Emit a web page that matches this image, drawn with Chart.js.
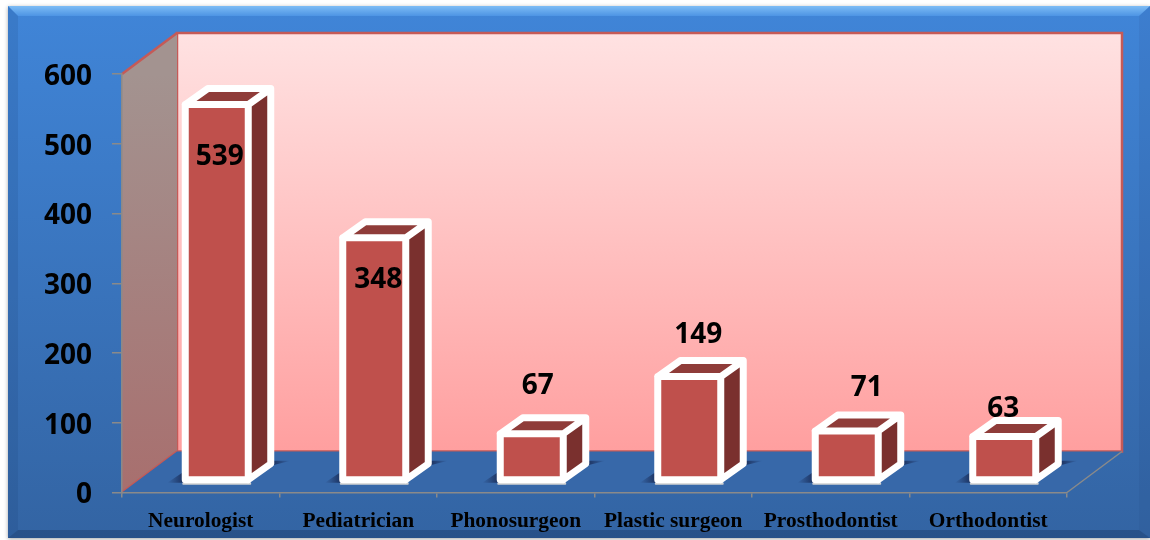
<!DOCTYPE html>
<html><head><meta charset="utf-8">
<style>html,body{margin:0;padding:0;background:#fff}canvas{display:block}</style>
<script src="https://cdn.jsdelivr.net/npm/chart.js@4"></script>
</head><body><canvas id="c" width="1150" height="540"></canvas>
<script>
const categories = ["Neurologist","Pediatrician","Phonosurgeon","Plastic surgeon","Prosthodontist","Orthodontist"];
const values = [539,348,67,149,71,63];
const yTicks = [0,100,200,300,400,500,600];
// label nudges relative to the top of each bar
const labelDx = [3,4,6,9,20,-1];
const labelDy = [50,40,-50,-44,-45,-30];

const wallX = 55, wallY = 41;        // depth of the chart box
const shiftX = 16, shiftY = -12;     // bars stand inside the floor
const faceX = 22.5, faceY = 16;      // depth of each bar

function poly(ctx, pts){ctx.beginPath();pts.forEach((p,i)=>i?ctx.lineTo(p[0],p[1]):ctx.moveTo(p[0],p[1]));ctx.closePath();}

const scene = {
  id:'scene',
  beforeDraw(chart){
    const ctx = chart.ctx, a = chart.chartArea;
    // drop y tick labels slightly onto their ticks
    if(!chart.$nudged){
      chart.scales.y.getLabelItems().forEach(it=>{it.options.translation[1]+=3;});
      chart.$nudged=true;
    }
    ctx.save();
    // panel
    let g = ctx.createLinearGradient(0,6,0,538);
    g.addColorStop(0,'#4085d8'); g.addColorStop(1,'#3364a3');
    ctx.shadowColor='rgba(0,0,0,.35)'; ctx.shadowBlur=4; ctx.shadowOffsetX=0; ctx.shadowOffsetY=1;
    ctx.fillStyle=g; ctx.fillRect(8,6,1142,532);
    ctx.shadowColor='transparent';
    g = ctx.createLinearGradient(0,6,0,16);
    g.addColorStop(0,'#7dbcf5'); g.addColorStop(1,'#4d94e4');
    ctx.fillStyle=g; poly(ctx,[[8,6],[1150,6],[1139,16],[18,16]]); ctx.fill();
    ctx.fillStyle='rgba(20,50,100,.12)'; poly(ctx,[[8,6],[18,16],[18,530],[8,538]]); ctx.fill();
    ctx.fillStyle='rgba(20,50,100,.08)'; poly(ctx,[[1150,6],[1139,16],[1139,530],[1150,538]]); ctx.fill();
    ctx.fillStyle='rgba(15,40,80,.3)'; poly(ctx,[[8,538],[18,530],[1139,530],[1150,538]]); ctx.fill();
    // back wall
    g = ctx.createLinearGradient(0,a.top-wallY,0,a.bottom-wallY);
    g.addColorStop(0,'#ffe2e2'); g.addColorStop(1,'#ff9f9f');
    const bl=a.left+wallX, br=a.right+wallX, bt=a.top-wallY, bb=a.bottom-wallY;
    ctx.fillStyle=g; ctx.fillRect(bl,bt,br-bl,bb-bt);
    ctx.strokeStyle='#c55a57'; ctx.lineWidth=2.5; ctx.strokeRect(bl,bt,br-bl,bb-bt);
    // side wall
    g = ctx.createLinearGradient(0,a.top,0,a.bottom);
    g.addColorStop(0,'#a39390'); g.addColorStop(1,'#a86f6e');
    ctx.fillStyle=g; poly(ctx,[[a.left,a.top],[bl,bt],[bl,bb],[a.left,a.bottom]]); ctx.fill();
    ctx.strokeStyle='#c55a57'; ctx.lineWidth=2.5;
    ctx.beginPath(); ctx.moveTo(a.left,a.top); ctx.lineTo(bl,bt); ctx.stroke();
    ctx.beginPath(); ctx.moveTo(a.left,a.bottom); ctx.lineTo(bl,bb); ctx.stroke();
    // floor
    ctx.fillStyle='#3768a9'; poly(ctx,[[a.left,a.bottom],[bl,bb],[br,bb],[a.right,a.bottom]]); ctx.fill();
    ctx.strokeStyle='#8a8a8a'; ctx.lineWidth=1.5;
    ctx.beginPath(); ctx.moveTo(a.right,a.bottom); ctx.lineTo(br,bb); ctx.stroke();
    ctx.restore();
  },
  beforeDatasetsDraw(chart){
    const ctx = chart.ctx;
    ctx.save();
    ctx.translate(shiftX,shiftY);
    chart.getDatasetMeta(0).data.forEach(bar=>{
      const {x,y,base,width} = bar.getProps(['x','y','base','width'],true);
      const l=x-width/2, r=x+width/2;
      // soft floor shadow either side of the bar
      let s = ctx.createLinearGradient(l-18,0,l,0);
      s.addColorStop(0,'rgba(22,38,80,0)'); s.addColorStop(1,'rgba(22,38,80,.9)');
      ctx.fillStyle=s; poly(ctx,[[l-18,base+3],[l,base+3],[l,base-9]]); ctx.fill();
      s = ctx.createLinearGradient(r+faceX,0,r+faceX+20,0);
      s.addColorStop(0,'rgba(22,38,80,.9)'); s.addColorStop(1,'rgba(22,38,80,0)');
      ctx.fillStyle=s; poly(ctx,[[r+faceX-14,base-faceY+14],[r+faceX,base-faceY+2],[r+faceX+20,base-faceY-3],[r+faceX,base-faceY-3]]); ctx.fill();
      // top and side faces
      ctx.fillStyle='#8f3c39'; poly(ctx,[[l,y],[r,y],[r+faceX,y-faceY],[l+faceX,y-faceY]]); ctx.fill();
      ctx.fillStyle='#7a302e'; poly(ctx,[[r,y],[r+faceX,y-faceY],[r+faceX,base-faceY],[r,base]]); ctx.fill();
    });
  },
  afterDatasetsDraw(chart){
    const ctx = chart.ctx;
    chart.getDatasetMeta(0).data.forEach((bar,i)=>{
      const {x,y,base,width} = bar.getProps(['x','y','base','width'],true);
      const l=x-width/2, r=x+width/2;
      ctx.lineJoin='round'; ctx.lineCap='round';
      ctx.strokeStyle='#d2d2d2'; ctx.lineWidth=2;
      ctx.beginPath(); ctx.moveTo(l-2,base+4); ctx.lineTo(r+2,base+4); ctx.stroke();
      ctx.strokeStyle='#fff'; ctx.lineWidth=7;
      ctx.beginPath();
      ctx.moveTo(l,y); ctx.lineTo(r,y); ctx.lineTo(r,base); ctx.lineTo(l,base); ctx.closePath();
      ctx.moveTo(l,y); ctx.lineTo(l+faceX,y-faceY); ctx.lineTo(r+faceX,y-faceY); ctx.lineTo(r,y);
      ctx.moveTo(r+faceX,y-faceY); ctx.lineTo(r+faceX,base-faceY); ctx.lineTo(r,base);
      ctx.stroke();
    });
    ctx.restore();
    // value labels
    ctx.save();
    ctx.font='bold 28px "Open Sans"'; ctx.fillStyle='#000'; ctx.textAlign='center'; ctx.textBaseline='middle';
    chart.getDatasetMeta(0).data.forEach((bar,i)=>{
      const {x,y} = bar.getProps(['x','y'],true);
      ctx.fillText(String(values[i]), x+shiftX+labelDx[i], y+shiftY+labelDy[i]+2);
    });
    ctx.restore();
  }
};

new Chart(document.getElementById('c'),{
  type:'bar',
  data:{labels:categories,datasets:[{data:values,backgroundColor:'#bf504c',borderWidth:0,barPercentage:0.4,categoryPercentage:1}]},
  plugins:[scene],
  options:{
    responsive:false,animation:false,
    layout:{padding:{top:74,right:83,left:0,bottom:0}},
    plugins:{legend:{display:false},title:{display:false},tooltip:{enabled:false}},
    scales:{
      x:{
        afterFit(s){s.height=47.5;},
        grid:{drawOnChartArea:false,drawTicks:true,tickLength:5,color:'#8a8a8a',lineWidth:1.5},
        border:{color:'#8a8a8a',width:1.5},
        ticks:{color:'#000',font:{family:'"Liberation Serif"',weight:'bold',size:21.4},padding:11,maxRotation:0,autoSkip:false}
      },
      y:{
        min:0,max:600,
        afterFit(s){s.width=122;},
        afterBuildTicks(s){s.ticks=yTicks.map(v=>({value:v}));},
        grid:{drawOnChartArea:false,drawTicks:true,tickLength:10,color:'#8a8a8a',lineWidth:1.5},
        border:{color:'#8a8a8a',width:1.5},
        ticks:{color:'#000',font:{family:'"Open Sans"',weight:'bold',size:28},padding:20}
      }
    }
  }
});
</script></body></html>
